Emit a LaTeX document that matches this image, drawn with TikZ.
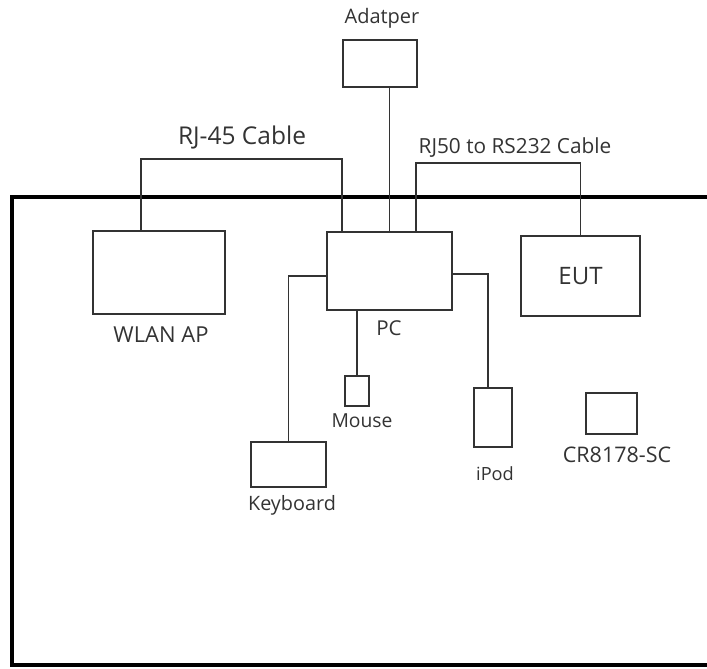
\documentclass[tikz,border=0pt]{standalone}
\usepackage{fontspec}
\newfontfamily\labfont{Open Sans}
\begin{document}
\begin{tikzpicture}[x=1pt,y=-1pt,
  dev/.style={draw=black!80,line width=1.6pt,minimum width=#1,inner sep=0pt,outer sep=0pt},
  cable/.style={draw=black!80,line width=1.5pt},
  lbl/.style={inner sep=0pt,text=black!80,font=\labfont\fontsize{#1}{#1}\selectfont},
  lbl/.default=20]
\useasboundingbox (0,0) rectangle (707,669);
% frame
\draw[line width=3.5pt,black] (707,197) -- (12,197) -- (12,665) -- (707,665);
% devices
\node[dev=74pt,minimum height=47pt] (adapter) at (380,63.5) {};
\node[dev=132pt,minimum height=83pt] (wlan) at (159,272.5) {};
\node[dev=125pt,minimum height=78pt] (pc) at (389.5,271) {};
\node[dev=119pt,minimum height=80pt] (eut) at (580.5,276) {};
\node[dev=24pt,minimum height=30pt] (mouse) at (357,391) {};
\node[dev=75pt,minimum height=45pt] (kbd) at (288.5,464.5) {};
\node[dev=38pt,minimum height=59pt] (ipod) at (493,417.5) {};
\node[dev=51pt,minimum height=41pt] (cr) at (611.5,413.5) {};
% labels
\node[lbl=20] (tadapter) at (382,18) {Adatper};
\node[lbl=24.5] (trj45) at (242,137) {RJ-45 Cable};
\node[lbl=20.8] (trj50) at (515,147.5) {RJ50 to RS232 Cable};
\node[lbl=22] (twlan) at (161,335) {WLAN AP};
\node[lbl=20.5] (tpc) at (389,328.5) {PC};
\node[lbl=24] (teut) at (eut.center) {EUT};
\node[lbl=19.3] (tmouse) at (362,421) {Mouse};
\node[lbl=19.8] (tkbd) at (292,505) {Keyboard};
\node[lbl=18.2] (tipod) at (495,474) {iPod};
\node[lbl=21.5] (tcr) at (617,455) {CR8178-SC};
% cable corner points
\coordinate (rjA) at (141,159);
\coordinate (rjB) at (342,159);
\coordinate (rsA) at (416,163);
\coordinate (rsB) at (eut.north |- rsA);
% connectors
\draw[cable] (adapter.south -| pc.north) -- (pc.north);
\draw[cable] (wlan.north -| rjA) -- (rjA) -- (rjB) -- (pc.north -| rjB);
\draw[cable] (pc.north -| rsA) -- (rsA) -- (rsB) -- (eut.north);
\draw[cable] ([yshift=-5pt]pc.west) -| (kbd.north);
\draw[cable] ([yshift=-3pt]pc.east) -| ([xshift=-5pt]ipod.north);
\draw[cable] (pc.south -| mouse.north) -- (mouse.north);
\end{tikzpicture}
\end{document}
